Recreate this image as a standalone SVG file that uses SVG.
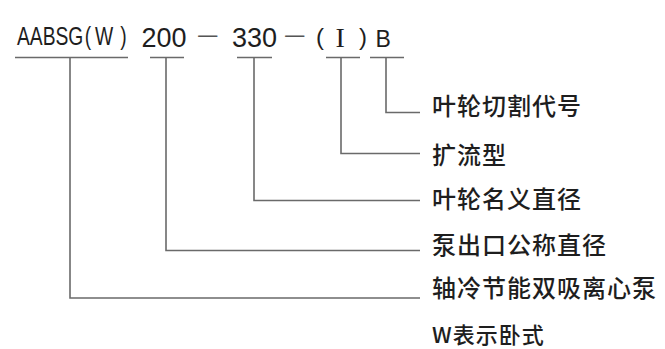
<svg xmlns="http://www.w3.org/2000/svg" width="665" height="349" viewBox="0 0 665 349">
<style>
.ln{stroke:#6a6a6a;stroke-width:1.6;fill:none}
.lab{font-family:"Noto Sans CJK SC","Noto Sans CJK JP",sans-serif;font-size:24px;font-weight:500;letter-spacing:1px;fill:#1e1e1e}
.code{fill:#1e1e1e}
.sans{font-family:"Liberation Sans",Arial,sans-serif}
.cjk{font-family:"Noto Sans CJK SC",sans-serif}
.serif{font-family:"Liberation Serif","Times New Roman",serif}
</style>
<rect width="665" height="349" fill="#ffffff"/>
<g id="code">
<text class="code sans" font-size="25" transform="translate(17,45) scale(0.77,1)">AABSG<tspan dx="2">(</tspan><tspan dx="5">W</tspan><tspan dx="9">)</tspan></text>
<text class="code"><tspan class="sans" x="141.5" y="47" font-size="27">200</tspan><tspan class="cjk" x="197" y="43" font-size="24" fill="#555">—</tspan><tspan class="sans" x="232" y="47" font-size="27">330</tspan><tspan class="cjk" x="284" y="43" font-size="24" fill="#555">—</tspan><tspan class="sans" x="316" y="45" font-size="24">(</tspan><tspan class="serif" x="335.5" y="47" font-size="28">I</tspan><tspan class="sans" x="359" y="45" font-size="24">)</tspan><tspan class="sans" x="375.5" y="46.5" font-size="23">B</tspan></text>
</g>
<g id="connectors">
<line class="ln" x1="15" y1="57.5" x2="128" y2="57.5"/>
<line class="ln" x1="150" y1="57.5" x2="184" y2="57.5"/>
<line class="ln" x1="237" y1="57.5" x2="272" y2="57.5"/>
<line class="ln" x1="326" y1="57.5" x2="360" y2="57.5"/>
<line class="ln" x1="370" y1="57.5" x2="404" y2="57.5"/>
<polyline class="ln" points="386,57.5 386,112.5 420,112.5"/>
<polyline class="ln" points="341,57.5 341,153.5 420,153.5"/>
<polyline class="ln" points="254,57.5 254,200.5 420,200.5"/>
<polyline class="ln" points="166,57.5 166,250.5 420,250.5"/>
<polyline class="ln" points="70,57.5 70,298 420,298"/>
</g>
<g id="n1"><text class="lab" x="432" y="115">叶轮切割代号</text></g>
<g id="n2"><text class="lab" x="432" y="164">扩流型</text></g>
<g id="n3"><text class="lab" x="432" y="208">叶轮名义直径</text></g>
<g id="n4"><text class="lab" x="432" y="254">泵出口公称直径</text></g>
<g id="n5"><text class="lab" x="432" y="297">轴冷节能双吸离心泵</text></g>
<g id="n6"><text class="lab" x="432" y="343" style="font-size:22px">W表示卧式</text></g>
</svg>
